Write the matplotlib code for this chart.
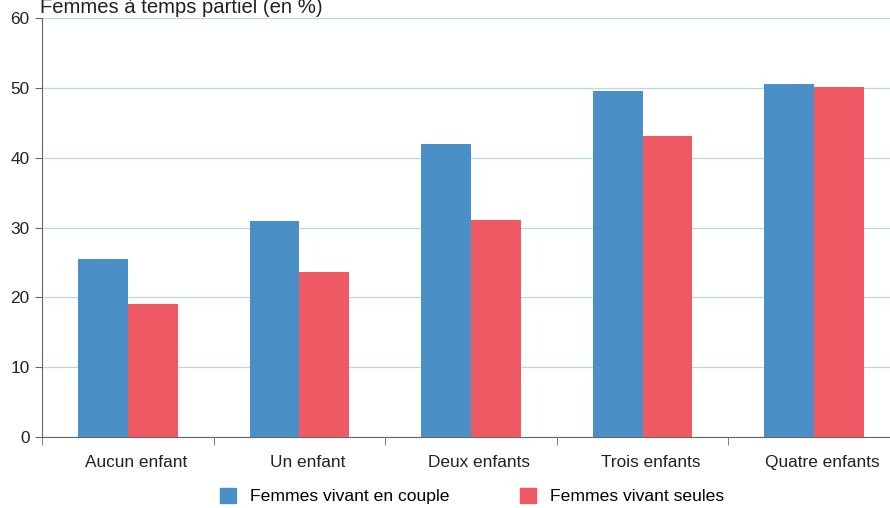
import numpy as np
import matplotlib
matplotlib.use("Agg")
import matplotlib.pyplot as plt
import matplotlib.transforms as mtransforms
from matplotlib.patches import Patch

categories = ["Aucun enfant", "Un enfant", "Deux enfants", "Trois enfants", "Quatre enfants"]
couple = [25.5, 30.9, 42.0, 49.6, 50.6]
seules = [19.1, 23.6, 31.1, 43.1, 50.1]
series_names = ["Femmes vivant en couple", "Femmes vivant seules"]

blue = "#4a90c6"
red = "#ef5964"

plt.rcParams["font.family"] = ["Liberation Sans", "DejaVu Sans"]

fig = plt.figure(figsize=(8.9, 5.08), dpi=100)
ax = fig.add_axes([42 / 890, 1 - 437 / 508, 858 / 890, (437 - 18) / 508])

x = np.arange(len(categories))
w = 0.29
ax.bar(x - w / 2, couple, w, color=blue, zorder=3)
ax.bar(x + w / 2, seules, w, color=red, zorder=3)

ax.set_xlim(-0.5, len(categories) - 0.5)
ax.set_ylim(0, 60)
ax.set_yticks(range(0, 61, 10))
ax.yaxis.grid(True, color="#b7d9ea", linewidth=0.9, zorder=0)
ax.set_axisbelow(True)

ax.set_xticks(x)
ax.set_xticklabels(categories, fontsize=12.4, color="#222222")
ax.set_xticks(np.arange(-0.5, len(categories), 1), minor=True)
ax.tick_params(axis="x", which="major", length=0, pad=13)
ax.tick_params(axis="x", which="minor", length=6, color="#666666")
ax.tick_params(axis="y", length=5, color="#666666", labelsize=12.4, labelcolor="#222222", pad=4)

# labels sit a bit to the right of the bar pairs in the original
shift = mtransforms.ScaledTranslation(0.08, 0, fig.dpi_scale_trans)
for lab in ax.get_xticklabels():
    lab.set_transform(lab.get_transform() + shift)

for s in ["top", "right"]:
    ax.spines[s].set_visible(False)
for s in ["left", "bottom"]:
    ax.spines[s].set_color("#666666")

fig.text(40 / 890, 1 - 13 / 508, "Femmes à temps partiel (en %)", fontsize=14.6,
         color="#222222", va="baseline", ha="left")

handles = [Patch(color=blue), Patch(color=red)]
fig.legend(handles, series_names, loc="center", bbox_to_anchor=(472 / 890, 1 - 496 / 508),
           ncol=2, frameon=False, fontsize=12.6, handlelength=0.92, handleheight=0.92,
           handletextpad=0.8, columnspacing=4.0)

fig.savefig("out.png", dpi=100)
